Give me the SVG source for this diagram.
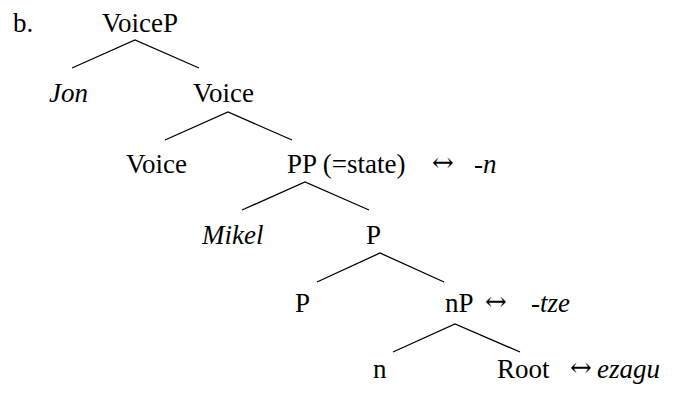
<svg xmlns="http://www.w3.org/2000/svg" width="683" height="394" viewBox="0 0 683 394">
<style>
.t{font-family:"Times New Roman","Liberation Serif",Tinos,serif;font-size:27px;fill:#000}
.i{font-style:italic}
.a{font-family:"DejaVu Serif",serif;font-size:26px;fill:#000}
.e{stroke:#000;stroke-width:1.3;fill:none}
</style>
<text class="t" x="13" y="32">b.</text>
<g id="connectors">
<path class="e" d="M72 68L135 40L199 68"/>
<path class="e" d="M165 140L228 112L292 140"/>
<path class="e" d="M242 210L305 182L369 210"/>
<path class="e" d="M317 282L380 253L444 282"/>
<path class="e" d="M393 352L455 324L520 352"/>
</g>
<g id="voiceP"><text class="t" x="102" y="32">VoiceP</text></g>
<g id="jon"><text class="t i" x="49" y="102">Jon</text></g>
<g id="voice1"><text class="t" x="193" y="102">Voice</text></g>
<g id="voice2"><text class="t" x="126" y="173">Voice</text></g>
<g id="pp"><text class="t" x="287" y="173">PP (=state)</text><text class="a" x="432" y="171">↔</text><text class="t" x="474" y="173">-<tspan class="i">n</tspan></text></g>
<g id="mikel"><text class="t i" x="202" y="244">Mikel</text></g>
<g id="p1"><text class="t" x="366" y="244">P</text></g>
<g id="p2"><text class="t" x="295" y="312">P</text></g>
<g id="np"><text class="t" x="445" y="312">nP</text><text class="a" x="485" y="310">↔</text><text class="t" x="531" y="312">-<tspan class="i">tze</tspan></text></g>
<g id="n"><text class="t" x="373" y="378">n</text></g>
<g id="root"><text class="t" x="497" y="378">Root</text><text class="a" x="570" y="376">↔</text><text class="t i" x="597" y="378">ezagu</text></g>
</svg>
